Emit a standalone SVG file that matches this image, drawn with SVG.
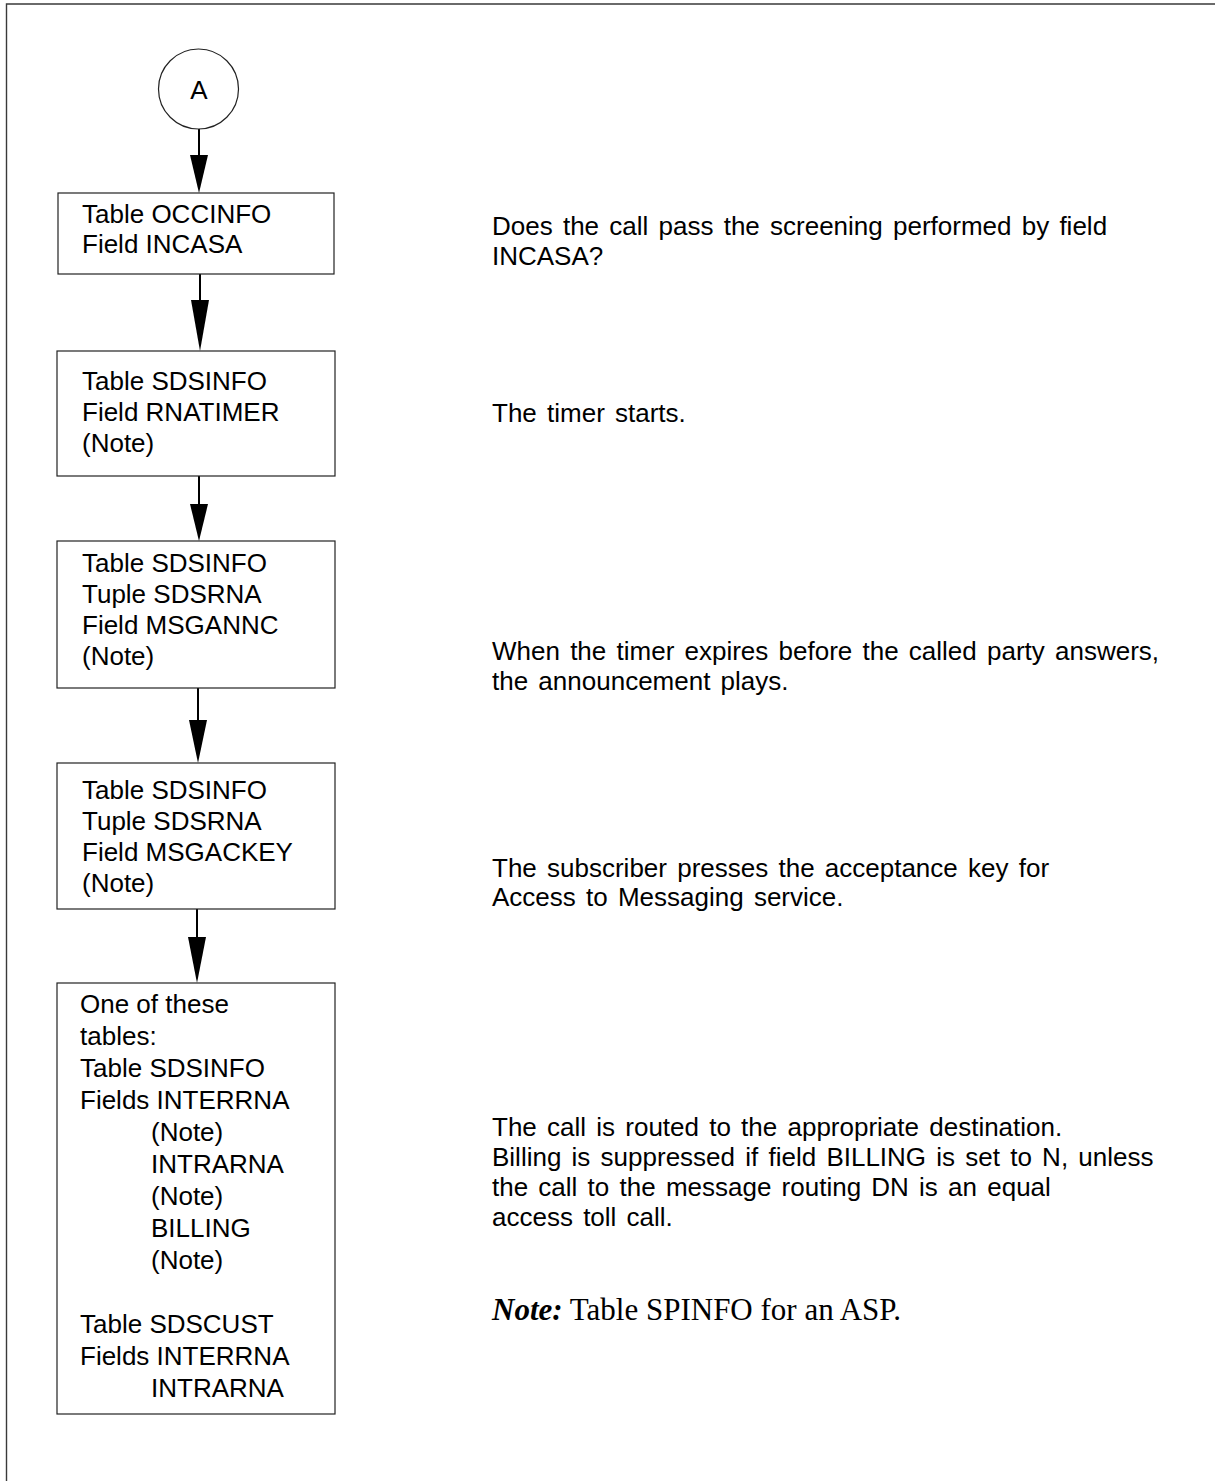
<svg xmlns="http://www.w3.org/2000/svg" width="1215" height="1481" viewBox="0 0 1215 1481">
<style>
.frame{fill:none;stroke:#3a3a3a;stroke-width:1.4}
.box{fill:#fff;stroke:#222;stroke-width:1.2}
.conn{stroke:#000;stroke-width:2;fill:none}
.head{fill:#000;stroke:none}
.t{font-family:"Liberation Sans",Arial,sans-serif;font-size:26px;fill:#000}
.d{font-family:"Liberation Sans",Arial,sans-serif;font-size:26px;fill:#000;word-spacing:3px}
.n{font-family:"Liberation Serif","Times New Roman",serif;font-size:31px;fill:#000}
</style>
<rect width="1215" height="1481" fill="#fff"/>
<path class="frame" d="M6.5,1481 V4 H1215"/>

<g id="connectors">
  <line class="conn" x1="199" y1="129" x2="199" y2="157"/>
  <polygon class="head" points="190,155 208,155 199,193"/>
  <line class="conn" x1="200" y1="274" x2="200" y2="302"/>
  <polygon class="head" points="191,300 209,300 200,351"/>
  <line class="conn" x1="199" y1="476" x2="199" y2="506"/>
  <polygon class="head" points="190,504 208,504 199,541"/>
  <line class="conn" x1="198" y1="688" x2="198" y2="722"/>
  <polygon class="head" points="189,720 207,720 198,763"/>
  <line class="conn" x1="197" y1="909" x2="197" y2="939"/>
  <polygon class="head" points="188,937 206,937 197,983"/>
</g>

<g id="nodeA">
  <circle cx="198.5" cy="89" r="40" fill="#fff" stroke="#222" stroke-width="1.2"/>
  <text class="t" x="199" y="99" text-anchor="middle">A</text>
</g>

<g id="node1">
  <rect class="box" x="58" y="193" width="276" height="81"/>
  <text class="t" x="82" y="223">Table OCCINFO</text>
  <text class="t" x="82" y="253">Field INCASA</text>
</g>

<g id="node2">
  <rect class="box" x="57" y="351" width="278" height="125"/>
  <text class="t" x="82" y="390">Table SDSINFO</text>
  <text class="t" x="82" y="421">Field RNATIMER</text>
  <text class="t" x="82" y="452">(Note)</text>
</g>

<g id="node3">
  <rect class="box" x="57" y="541" width="278" height="147"/>
  <text class="t" x="82" y="572">Table SDSINFO</text>
  <text class="t" x="82" y="603">Tuple SDSRNA</text>
  <text class="t" x="82" y="634">Field MSGANNC</text>
  <text class="t" x="82" y="665">(Note)</text>
</g>

<g id="node4">
  <rect class="box" x="57" y="763" width="278" height="146"/>
  <text class="t" x="82" y="799">Table SDSINFO</text>
  <text class="t" x="82" y="830">Tuple SDSRNA</text>
  <text class="t" x="82" y="861">Field MSGACKEY</text>
  <text class="t" x="82" y="892">(Note)</text>
</g>

<g id="node5">
  <rect class="box" x="57" y="983" width="278" height="431"/>
  <text class="t" x="80" y="1013">One of these</text>
  <text class="t" x="80" y="1045">tables:</text>
  <text class="t" x="80" y="1077">Table SDSINFO</text>
  <text class="t" x="80" y="1109">Fields INTERRNA</text>
  <text class="t" x="151" y="1141">(Note)</text>
  <text class="t" x="151" y="1173">INTRARNA</text>
  <text class="t" x="151" y="1205">(Note)</text>
  <text class="t" x="151" y="1237">BILLING</text>
  <text class="t" x="151" y="1269">(Note)</text>
  <text class="t" x="80" y="1333">Table SDSCUST</text>
  <text class="t" x="80" y="1365">Fields INTERRNA</text>
  <text class="t" x="151" y="1397">INTRARNA</text>
</g>

<g id="descriptions">
  <text class="d" x="492" y="235">Does the call pass the screening performed by field</text>
  <text class="d" x="492" y="265">INCASA?</text>
  <text class="d" x="492" y="422">The timer starts.</text>
  <text class="d" x="492" y="660">When the timer expires before the called party answers,</text>
  <text class="d" x="492" y="690">the announcement plays.</text>
  <text class="d" x="492" y="877">The subscriber presses the acceptance key for</text>
  <text class="d" x="492" y="906">Access to Messaging service.</text>
  <text class="d" x="492" y="1136">The call is routed to the appropriate destination.</text>
  <text class="d" x="492" y="1166">Billing is suppressed if field BILLING is set to N, unless</text>
  <text class="d" x="492" y="1196">the call to the message routing DN is an equal</text>
  <text class="d" x="492" y="1226">access toll call.</text>
  <text class="n" x="492" y="1320"><tspan font-weight="bold" font-style="italic">Note:</tspan> Table SPINFO for an ASP.</text>
</g>
</svg>
